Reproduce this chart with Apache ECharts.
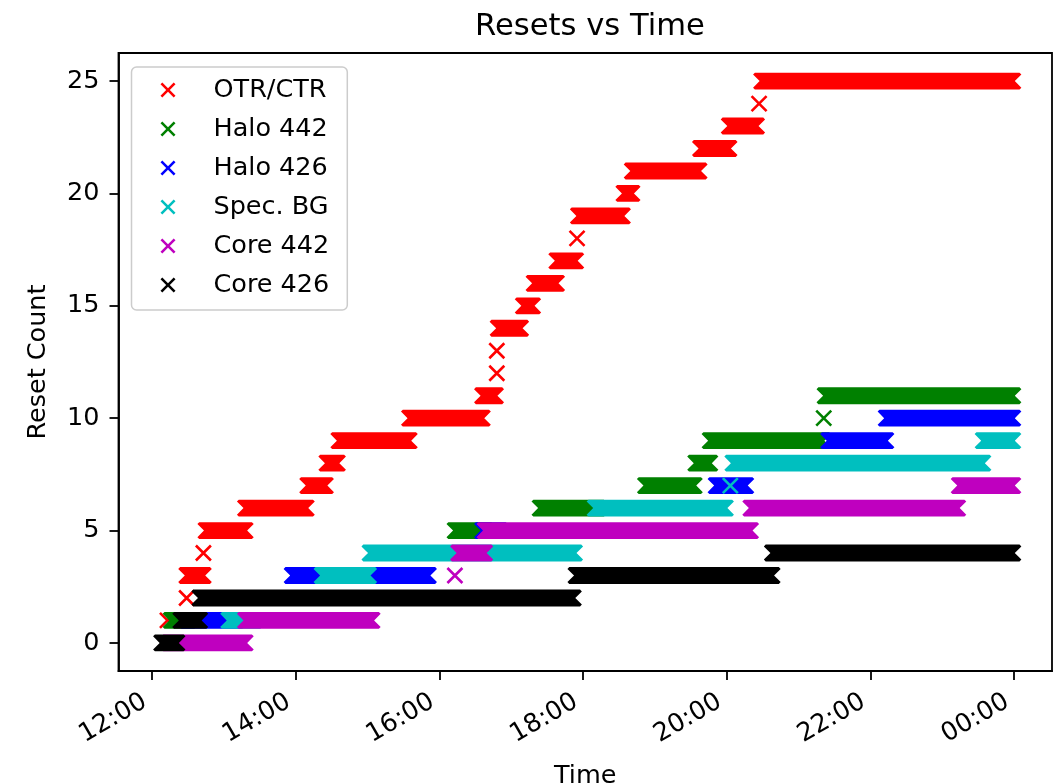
<!DOCTYPE html>
<html>
<head>
<meta charset="utf-8">
<title>Resets vs Time</title>
<script src="https://cdn.jsdelivr.net/npm/echarts@6/dist/echarts.min.js"></script>
<style>
  html, body { margin: 0; padding: 0; background: #fff; }
  #chart { width: 1064px; height: 784px; }
</style>
</head>
<body>
<div id="chart"></div>
<script>
// Each run is [first reading, last reading, reset count]; a single reading has first == last.
const otrCtr = [
  ['12:13', '12:13', 1],
  ['12:29', '12:29', 2],
  ['12:29', '12:43', 3],
  ['12:43', '12:43', 4],
  ['12:45', '13:18', 5],
  ['13:18', '14:09', 6],
  ['14:10', '14:25', 7],
  ['14:26', '14:35', 8],
  ['14:36', '15:35', 9],
  ['15:35', '16:36', 10],
  ['16:36', '16:47', 11],
  ['16:48', '16:48', 12],
  ['16:48', '16:48', 13],
  ['16:49', '17:08', 14],
  ['17:10', '17:18', 15],
  ['17:19', '17:38', 16],
  ['17:38', '17:54', 17],
  ['17:55', '17:55', 18],
  ['17:56', '18:33', 19],
  ['18:34', '18:41', 20],
  ['18:41', '19:37', 21],
  ['19:38', '20:02', 22],
  ['20:02', '20:25', 23],
  ['20:27', '20:27', 24],
  ['20:29', '23:59', 25]
];
const halo442 = [
  ['12:16', '12:30', 1],
  ['16:13', '16:38', 5],
  ['17:24', '18:12', 6],
  ['18:52', '19:33', 7],
  ['19:34', '19:46', 8],
  ['19:46', '21:20', 9],
  ['21:21', '21:21', 10],
  ['21:22', '23:59', 11]
];
const halo426 = [
  ['12:30', '13:10', 1],
  ['13:57', '15:51', 3],
  ['16:36', '16:50', 5],
  ['19:51', '20:16', 7],
  ['21:25', '22:13', 9],
  ['22:13', '23:59', 10]
];
const specBg = [
  ['13:04', '13:25', 1],
  ['14:22', '15:01', 3],
  ['15:02', '17:53', 4],
  ['18:10', '19:59', 6],
  ['20:03', '20:03', 7],
  ['20:05', '23:34', 8],
  ['23:34', '23:59', 9]
];
const core442 = [
  ['12:15', '13:18', 0],
  ['13:18', '15:04', 1],
  ['16:13', '16:13', 3],
  ['16:16', '16:38', 4],
  ['16:38', '20:20', 5],
  ['20:20', '23:13', 6],
  ['23:14', '23:59', 7]
];
const core426 = [
  ['12:08', '12:21', 0],
  ['12:24', '12:40', 1],
  ['12:40', '17:52', 2],
  ['17:54', '20:38', 3],
  ['20:38', '23:59', 4]
];

const seriesNames = ['OTR/CTR', 'Halo 442', 'Halo 426', 'Spec. BG', 'Core 442', 'Core 426'];
const seriesRuns = [otrCtr, halo442, halo426, specBg, core442, core426];
const seriesColors = ['#ff0000', '#008000', '#0000ff', '#00bfbf', '#bf00bf', '#000000'];

const xTicks = [0, 120, 240, 360, 480, 600, 720];   // minutes after 12:00
const yTicks = [0, 5, 10, 15, 20, 25];

const FONT = 'DejaVu Sans';

// clock time -> minutes after 12:00 (times before noon belong to the next day)
function toMinutes(t) {
  const [h, m] = t.split(':').map(Number);
  return (h < 12 ? h + 24 : h) * 60 + m - 720;
}
function clockLabel(v) {
  const total = (720 + Math.round(v)) % 1440;
  const h = Math.floor(total / 60), m = total % 60;
  return String(h).padStart(2, '0') + ':' + String(m).padStart(2, '0');
}

// cross marker geometry (px)
const HALF = 7.5;              // half span of one cross
const LW = 2.6;                // stroke width
const C = LW * 0.3536;
const T = HALF + C, U = HALF - C, A = LW * 0.7071;

function renderRun(params, api) {
  const y = api.value(2);
  const p0 = api.coord([api.value(0), y]);
  const p1 = api.coord([api.value(1), y]);
  const color = api.visual('color');
  const cy = p0[1];
  const s = p0[0], e = p1[0];
  if (e - s < 1) {
    return {
      type: 'path',
      shape: {
        pathData: 'M' + (s - HALF) + ' ' + (cy - HALF) + 'L' + (s + HALF) + ' ' + (cy + HALF) +
                  'M' + (s - HALF) + ' ' + (cy + HALF) + 'L' + (s + HALF) + ' ' + (cy - HALF)
      },
      style: { fill: null, stroke: color, lineWidth: LW, lineCap: 'butt' }
    };
  }
  // a run of overlapping crosses: a band with notched ends
  return {
    type: 'polygon',
    shape: {
      points: [
        [s - U, cy - T], [e + U, cy - T], [e + T, cy - U], [e + A, cy],
        [e + T, cy + U], [e + U, cy + T], [s - U, cy + T], [s - T, cy + U],
        [s - A, cy], [s - T, cy - U]
      ]
    },
    style: { fill: color }
  };
}

const crossIcon = 'path://M0,12L12,0L50,38L88,0L100,12L62,50L100,88L88,100L50,62L12,100L0,88L38,50Z';

const chart = echarts.init(document.getElementById('chart'), null, { renderer: 'canvas' });

chart.setOption({
  animation: false,
  backgroundColor: '#ffffff',
  textStyle: { fontFamily: FONT, color: '#000' },
  title: {
    text: 'Resets vs Time',
    left: 585,
    textAlign: 'center',
    top: 7,
    textStyle: { fontFamily: FONT, fontSize: 30.6, fontWeight: 'normal', color: '#000' }
  },
  grid: {
    left: 118.5, top: 53, width: 933.5, height: 618,
    outerBoundsMode: 'none',
    containLabel: false,
    show: true, borderColor: '#000', borderWidth: 1.8, backgroundColor: 'transparent'
  },
  legend: {
    orient: 'vertical',
    left: 131.5, top: 67,
    padding: [8, 18, 10, 29],
    itemWidth: 15, itemHeight: 15, itemGap: 9,
    backgroundColor: 'rgba(255,255,255,0.8)',
    borderColor: '#cccccc', borderWidth: 1.5, borderRadius: 5,
    icon: crossIcon,
    data: seriesNames,
    textStyle: { fontFamily: FONT, fontSize: 25.5, lineHeight: 30, color: '#000', padding: [0, 0, 0, 33] }
  },
  xAxis: {
    type: 'value',
    min: -27.9, max: 751.6,
    name: 'Time', nameLocation: 'middle', nameGap: 92,
    nameTextStyle: { fontFamily: FONT, fontSize: 25.5, color: '#000' },
    axisLine: { show: true, onZero: false, lineStyle: { color: '#000', width: 1.8 } },
    axisTick: { show: true, inside: false, length: 9, lineStyle: { color: '#000', width: 1.8 }, customValues: xTicks },
    axisLabel: {
      fontFamily: FONT, fontSize: 25.5, color: '#000', rotate: 30, margin: 25,
      padding: [0, 8, 0, 0],
      customValues: xTicks, formatter: clockLabel
    },
    splitLine: { show: false }
  },
  yAxis: {
    type: 'value',
    min: -1.25, max: 26.25,
    name: 'Reset Count', nameLocation: 'middle', nameGap: 67,
    nameTextStyle: { fontFamily: FONT, fontSize: 25.5, color: '#000' },
    axisLine: { show: true, onZero: false, lineStyle: { color: '#000', width: 1.8 } },
    axisTick: { show: true, inside: false, length: 9, lineStyle: { color: '#000', width: 1.8 }, customValues: yTicks },
    axisLabel: { fontFamily: FONT, fontSize: 25.5, color: '#000', margin: 19, customValues: yTicks },
    splitLine: { show: false }
  },
  series: seriesNames.map((name, i) => ({
    name: name,
    type: 'custom',
    renderItem: renderRun,
    itemStyle: { color: seriesColors[i] },
    encode: { x: [0, 1], y: 2 },
    data: seriesRuns[i].map(r => [toMinutes(r[0]), toMinutes(r[1]), r[2]]),
    z: 2 + i * 0.01
  }))
});
</script>
</body>
</html>
